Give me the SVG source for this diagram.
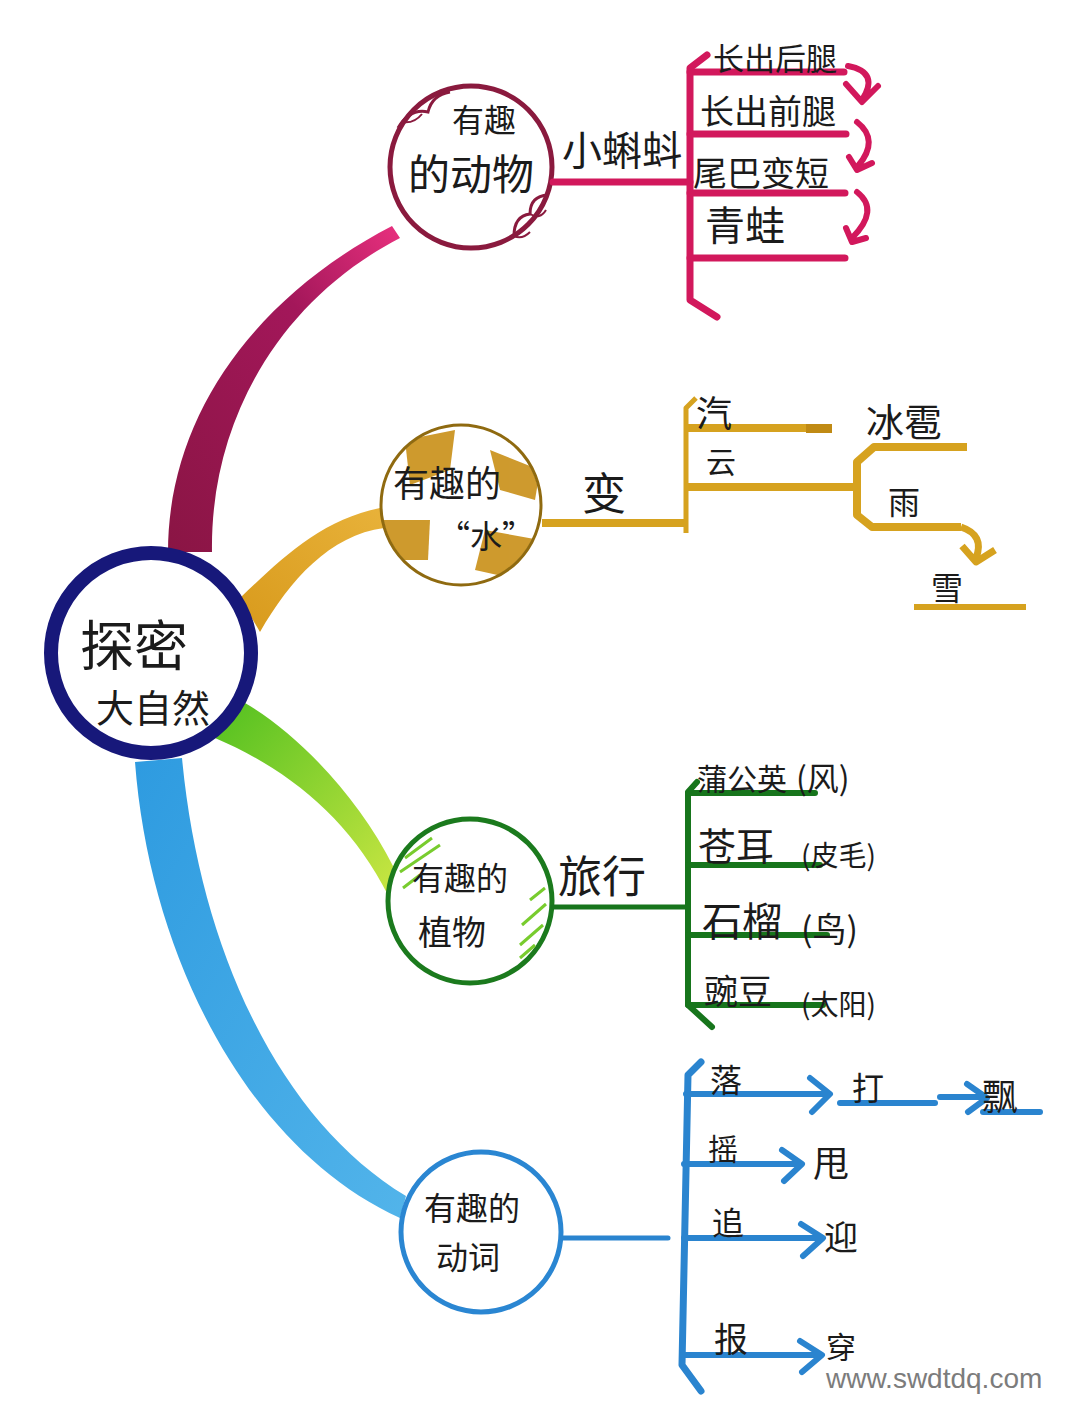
<svg xmlns="http://www.w3.org/2000/svg" width="1080" height="1420" viewBox="0 0 1080 1420">
<defs>
<style>
.t{font-family:'Noto Sans CJK SC','Noto Sans CJK TC',sans-serif;fill:#1b1b1b;}
.pk{stroke:#d2185c;fill:none;stroke-linecap:round;stroke-linejoin:round;}
.gd{stroke:#d6a21f;fill:none;stroke-linecap:butt;stroke-linejoin:round;}
.gr{stroke:#17751c;fill:none;stroke-linecap:round;stroke-linejoin:round;}
.bl{stroke:#2a84cf;fill:none;stroke-linecap:round;stroke-linejoin:round;}
</style>
<linearGradient id="gM" x1="0" y1="1" x2="1" y2="0"><stop offset="0" stop-color="#8a1544"/><stop offset="0.65" stop-color="#a3175a"/><stop offset="1" stop-color="#e8307e"/></linearGradient>
<linearGradient id="gG" x1="0" y1="1" x2="1" y2="0"><stop offset="0" stop-color="#d89a1c"/><stop offset="1" stop-color="#e8b23a"/></linearGradient>
<linearGradient id="gN" x1="0" y1="0" x2="1" y2="1"><stop offset="0" stop-color="#52c020"/><stop offset="1" stop-color="#c9e642"/></linearGradient>
<linearGradient id="gB" x1="0" y1="0" x2="1" y2="1"><stop offset="0" stop-color="#2e9be0"/><stop offset="1" stop-color="#52b4ea"/></linearGradient>
<clipPath id="cw"><circle cx="461" cy="505" r="79"/></clipPath>
</defs>
<rect width="1080" height="1420" fill="#ffffff"/>

<g id="connectors">
  <path d="M168,552 C168,420 250,300 392,226 L400,238 C280,300 210,420 212,552 Z" fill="url(#gM)"/>
  <path d="M240,598 C280,560 320,520 380,508 L384,528 C330,535 290,580 260,632 Z" fill="url(#gG)"/>
  <path d="M215,738 C290,770 350,820 388,895 L393,866 C360,800 300,735 245,703 Z" fill="url(#gN)"/>
  <path d="M135,762 C150,960 250,1150 400,1218 L406,1196 C280,1120 200,950 182,758 Z" fill="url(#gB)"/>
</g>

<g id="center">
  <circle cx="151" cy="653" r="100" fill="#ffffff" stroke="#17187a" stroke-width="14"/>
  <text class="t" x="80" y="666" font-size="54">探密</text>
  <text class="t" x="96" y="722" font-size="38">大自然</text>
</g>

<g id="animals">
  <circle cx="471" cy="167" r="81" fill="#ffffff" stroke="#8a1a3e" stroke-width="5"/>
  <path d="M398,128 Q410,108 428,112 Q432,95 450,92" fill="none" stroke="#8a1a3e" stroke-width="3"/>
  <path d="M402,122 Q414,124 422,114" fill="none" stroke="#8a1a3e" stroke-width="2"/>
  <path d="M548,195 Q530,196 530,214 Q514,216 514,236" fill="none" stroke="#8a1a3e" stroke-width="3"/>
  <path d="M530,214 Q540,220 546,210 M514,236 Q522,240 530,232" fill="none" stroke="#8a1a3e" stroke-width="2"/>
  <text class="t" x="452" y="132" font-size="32">有趣</text>
  <text class="t" x="408" y="190" font-size="42">的动物</text>
  <text class="t" x="562" y="165" font-size="40">小蝌蚪</text>
  <path class="pk" d="M553,182 L690,182" stroke-width="7"/>
  <path class="pk" d="M707,55 L690,68 L690,300 L717,317" stroke-width="7"/>
  <path class="pk" d="M690,72 L844,72 M690,134 L846,134 M690,193 L845,193 M690,258 L845,258" stroke-width="7"/>
  <path class="pk" d="M848,66 Q880,72 862,100 M846,84 L862,102 L878,86" stroke-width="6"/>
  <path class="pk" d="M857,122 Q880,140 858,166 M849,157 L857,170 L872,163" stroke-width="6"/>
  <path class="pk" d="M857,192 Q880,210 852,238 M846,228 L852,242 L866,238" stroke-width="6"/>
  <text class="t" x="713" y="70" font-size="31">长出后腿</text>
  <text class="t" x="700" y="124" font-size="34">长出前腿</text>
  <text class="t" x="693" y="186" font-size="34">尾巴变短</text>
  <text class="t" x="705" y="240" font-size="40">青蛙</text>
</g>

<g id="water">
  <circle cx="461" cy="505" r="80" fill="#ffffff"/>
  <g clip-path="url(#cw)" fill="#c98f17" opacity="0.9">
    <path d="M405,440 L455,430 L450,470 L410,485 Z"/>
    <path d="M490,450 L540,470 L535,500 L500,490 Z"/>
    <path d="M380,520 L430,520 L428,560 L385,560 Z"/>
    <path d="M485,530 L540,540 L520,580 L475,570 Z"/>
  </g>
  <circle cx="461" cy="505" r="80" fill="none" stroke="#8f6a10" stroke-width="3"/>
  <text class="t" x="393" y="497" font-size="36">有趣的</text>
  <text class="t" x="438" y="548" font-size="32">“水”</text>
  <text class="t" x="582" y="510" font-size="44">变</text>
  <path class="gd" d="M542,523 L684,523" stroke-width="8"/>
  <path class="gd" d="M686,533 L686,408 L696,398" stroke-width="5"/>
  <path class="gd" d="M686,428 L808,428" stroke-width="8"/>
  <path d="M806,424 L832,424 L832,433 L806,433 Z" fill="#c08a14"/>
  <path class="gd" d="M686,487 L853,487" stroke-width="8"/>
  <path class="gd" d="M967,447 L874,447 L857,462 L857,515 L872,527 L961,527" stroke-width="8"/>
  <path class="gd" d="M961,527 Q985,535 976,558 M962,546 L976,562 L995,550" stroke-width="7" stroke-linecap="round"/>
  <path class="gd" d="M914,607 L1026,607" stroke-width="6"/>
  <text class="t" x="696" y="427" font-size="36">汽</text>
  <text class="t" x="706" y="473" font-size="30">云</text>
  <text class="t" x="866" y="436" font-size="38">冰雹</text>
  <text class="t" x="888" y="514" font-size="32">雨</text>
  <text class="t" x="931" y="600" font-size="32">雪</text>
</g>

<g id="plants">
  <circle cx="470" cy="901" r="82" fill="#ffffff" stroke="#1b7a1d" stroke-width="5"/>
  <path d="M405,858 L432,838 M400,872 L440,845 M403,888 L420,875" stroke="#78cc2e" stroke-width="3" fill="none"/>
  <path d="M530,900 L545,888 M522,925 L546,904 M520,945 L543,925 M520,958 L535,945" stroke="#78cc2e" stroke-width="3" fill="none"/>
  <text class="t" x="412" y="890" font-size="32">有趣的</text>
  <text class="t" x="418" y="945" font-size="34">植物</text>
  <text class="t" x="558" y="893" font-size="44">旅行</text>
  <path class="gr" d="M553,907 L686,907" stroke-width="5"/>
  <path class="gr" d="M697,782 L688,792 L688,1005 L712,1027" stroke-width="6"/>
  <path class="gr" d="M688,793 L815,793 M688,865 L820,865 M688,935 L827,935 M688,1005 L823,1005" stroke-width="6"/>
  <text class="t" x="697" y="790" font-size="30">蒲公英</text>
  <text class="t" x="796" y="790" font-size="32">(风)</text>
  <text class="t" x="698" y="860" font-size="38">苍耳</text>
  <text class="t" x="801" y="866" font-size="28">(皮毛)</text>
  <text class="t" x="702" y="936" font-size="40">石榴</text>
  <text class="t" x="801" y="942" font-size="34">(鸟)</text>
  <text class="t" x="704" y="1004" font-size="34">豌豆</text>
  <text class="t" x="801" y="1015" font-size="28">(太阳)</text>
</g>

<g id="verbs">
  <circle cx="481" cy="1232" r="80" fill="#ffffff" stroke="#2a86d2" stroke-width="5"/>
  <text class="t" x="424" y="1220" font-size="32">有趣的</text>
  <text class="t" x="436" y="1269" font-size="32">动词</text>
  <path class="bl" d="M562,1238 L668,1238" stroke-width="5"/>
  <path class="bl" d="M701,1062 L688,1075 L682,1365 L701,1391" stroke-width="7"/>
  <path class="bl" d="M686,1094 L828,1094 M810,1078 L830,1094 L812,1112" stroke-width="6"/>
  <path class="bl" d="M840,1103 L935,1103" stroke-width="6"/>
  <path class="bl" d="M940,1097 L985,1097 M967,1084 L987,1098 L968,1112" stroke-width="6"/>
  <path class="bl" d="M983,1112 L1040,1112" stroke-width="6"/>
  <path class="bl" d="M684,1164 L800,1164 M782,1150 L802,1164 L784,1181" stroke-width="6"/>
  <path class="bl" d="M684,1238 L820,1238 M801,1224 L823,1238 L803,1256" stroke-width="6"/>
  <path class="bl" d="M683,1355 L820,1355 M800,1341 L822,1355 L802,1372" stroke-width="6"/>
  <text class="t" x="710" y="1092" font-size="32">落</text>
  <text class="t" x="852" y="1100" font-size="32">打</text>
  <text class="t" x="982" y="1110" font-size="36">飘</text>
  <text class="t" x="708" y="1160" font-size="30">摇</text>
  <text class="t" x="813" y="1177" font-size="36">甩</text>
  <text class="t" x="712" y="1235" font-size="32">追</text>
  <text class="t" x="824" y="1250" font-size="34">迎</text>
  <text class="t" x="714" y="1352" font-size="34">报</text>
  <text class="t" x="826" y="1358" font-size="30">穿</text>
</g>

<text x="826" y="1388" font-family="'Liberation Sans',Arial,sans-serif" font-size="28" fill="#7c7c7c">www.swdtdq.com</text>
</svg>
